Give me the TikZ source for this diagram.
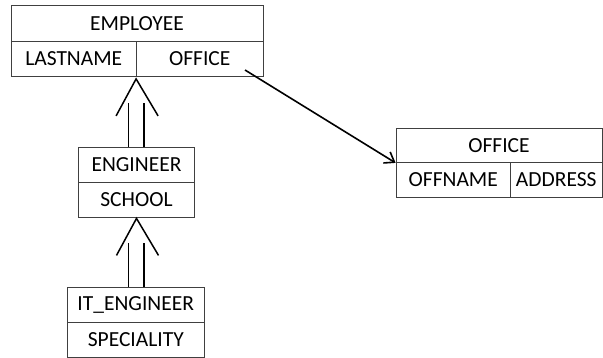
\documentclass[tikz,border=0pt]{standalone}
\usepackage{fontspec}
\setmainfont{Carlito}
\usetikzlibrary{arrows.meta}
\begin{document}
\begin{tikzpicture}[x=1pt,y=1pt,
  cell/.style={draw=black!75,line width=0.8pt,rectangle,inner sep=0pt,font=\fontsize{21.5}{25}\selectfont,text=black},
  link/.style={line width=1.6pt,black},
  isa/.style={line width=1.5pt,black}]
\useasboundingbox (0,0) rectangle (603,-358);
% EMPLOYEE
\node[cell,minimum width=252pt,minimum height=36pt] (emp) at (137,-23.5) {EMPLOYEE};
\node[cell,minimum width=125.5pt,minimum height=35pt] (emplast) at (73.75,-59) {LASTNAME};
\node[cell,minimum width=126.5pt,minimum height=35pt] (empoff) at (199.75,-59) {OFFICE};
% OFFICE
\node[cell,minimum width=206pt,minimum height=34.5pt] (off) at (499,-145.25) {OFFICE};
\node[cell,minimum width=114.5pt,minimum height=35pt] (offname) at (453.25,-180) {OFFNAME};
\node[cell,minimum width=91.5pt,minimum height=35pt] (offaddr) at (556.25,-180) {ADDRESS};
% ENGINEER
\node[cell,minimum width=116pt,minimum height=35pt] (eng) at (136.5,-165) {ENGINEER};
\node[cell,minimum width=116pt,minimum height=35pt] (engschool) at (136.5,-200) {SCHOOL};
% IT_ENGINEER
\node[cell,minimum width=136.5pt,minimum height=35pt] (iteng) at (135.75,-305) {IT\_ENGINEER};
\node[cell,minimum width=136.5pt,minimum height=35pt] (itspec) at (135.75,-340) {SPECIALITY};
% reference arrow
\coordinate (refstart) at (245,-70);
\draw[link,-{Straight Barb[length=9pt,width=13pt]}] (refstart) -- (off.south west);
% inheritance ENGINEER -> EMPLOYEE
\coordinate (apex1) at ([yshift=-2pt]empoff.south west);
\draw[isa] ([xshift=-20pt,yshift=-37pt]apex1) -- (apex1) -- ([xshift=22pt,yshift=-37pt]apex1);
\draw[isa] ([xshift=-8pt]eng.north) -- ([xshift=-8pt,yshift=44pt]eng.north);
\draw[isa] ([xshift=7.5pt]eng.north) -- ([xshift=7.5pt,yshift=44pt]eng.north);
% inheritance IT_ENGINEER -> ENGINEER
\coordinate (apex2) at ([yshift=-0.5pt]engschool.south);
\draw[isa] ([xshift=-20pt,yshift=-37pt]apex2) -- (apex2) -- ([xshift=22pt,yshift=-37pt]apex2);
\draw[isa] ([xshift=-7.5pt]iteng.north) -- ([xshift=-7.5pt,yshift=44.5pt]iteng.north);
\draw[isa] ([xshift=8.25pt]iteng.north) -- ([xshift=8.25pt,yshift=44.5pt]iteng.north);
\end{tikzpicture}
\end{document}
